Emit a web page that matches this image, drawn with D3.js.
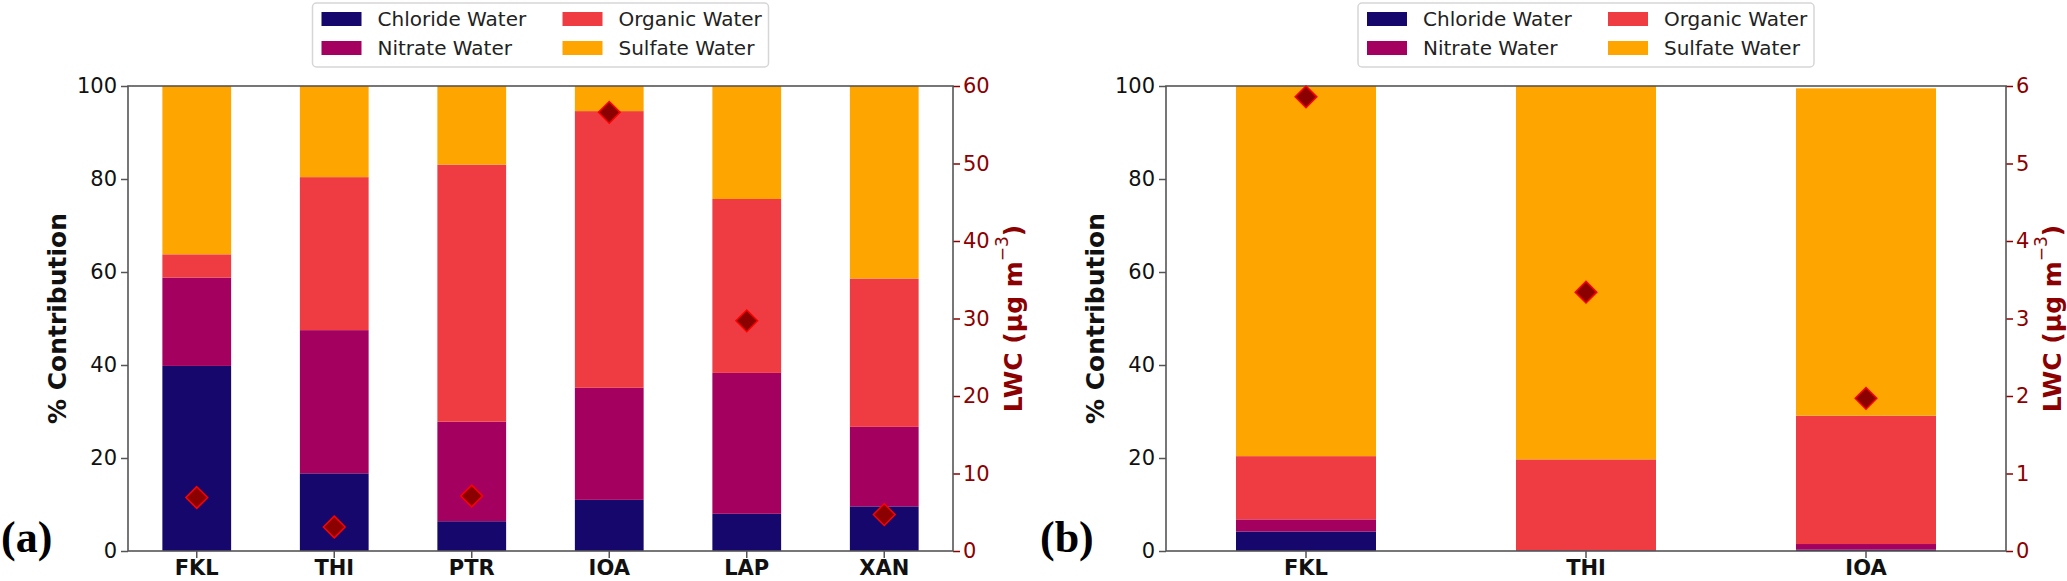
<!DOCTYPE html>
<html>
<head>
<meta charset="utf-8">
<script src="https://cdn.jsdelivr.net/npm/d3@7"></script>
<style>
  html, body { margin: 0; padding: 0; background: #ffffff; }
  svg { display: block; font-family: 'DejaVu Sans', sans-serif; }
  .axis .domain { display: none; }
  .axis text { font-family: 'DejaVu Sans', sans-serif; }
  .spine { fill: none; stroke: #555555; stroke-width: 1.6px; }
  .tag { font-family: 'Liberation Serif', 'Times New Roman', serif; font-weight: bold; font-size: 44px; fill: #000; }
</style>
</head>
<body>
<div id="chart"></div>
<script>
/* ---- data ---- */
const seriesNames = ["Chloride Water", "Nitrate Water", "Organic Water", "Sulfate Water"];
const seriesKeys  = ["chloride", "nitrate", "organic", "sulfate"];
const seriesColors = ["#15076b", "#a3005f", "#ef3c42", "#ffa500"];

// panel (a)
const sitesA    = ["FKL", "THI", "PTR", "IOA", "LAP", "XAN"];
const chlorideA = [39.8, 16.7, 6.4, 11.0, 8.0, 9.6];
const nitrateA  = [19.0, 30.8, 21.4, 24.1, 30.3, 17.1];
const organicA  = [5.0, 32.9, 55.3, 59.5, 37.4, 31.9];
const sulfateA  = [36.2, 19.6, 16.9, 5.4, 24.3, 41.4];
const lwcA      = [6.9, 3.1, 7.1, 56.6, 29.7, 4.7];
const lwcTicksA = [0, 10, 20, 30, 40, 50, 60];

// panel (b)
const sitesB    = ["FKL", "THI", "IOA"];
const chlorideB = [4.2, 0.1, 0.3];
const nitrateB  = [2.6, 0.1, 1.2];
const organicB  = [13.6, 19.5, 27.6];
const sulfateB  = [79.6, 80.3, 70.4];
const lwcB      = [5.86, 3.34, 1.97];
const lwcTicksB = [0, 1, 2, 3, 4, 5, 6];

const pctTicks = [0, 20, 40, 60, 80, 100];

const W = 2067, H = 581;
const svg = d3.select("#chart").append("svg")
  .attr("width", W).attr("height", H)
  .attr("viewBox", `0 0 ${W} ${H}`);

function drawPanel(p) {
  const rows = p.sites.map((s, i) => ({
    site: s,
    chloride: p.chloride[i], nitrate: p.nitrate[i],
    organic: p.organic[i], sulfate: p.sulfate[i],
    lwc: p.lwc[i]
  }));

  const x = d3.scaleBand()
    .domain(p.sites)
    .range([p.left, p.right])
    .paddingInner(0.5)
    .paddingOuter(0.25);
  const y = d3.scaleLinear().domain([0, 100]).range([p.bottom, p.top]);
  const yR = d3.scaleLinear().domain([0, p.lwcMax]).range([p.bottom, p.top]);

  const g = svg.append("g");

  // stacked bars
  const stacked = d3.stack().keys(seriesKeys)(rows);
  g.selectAll("g.layer")
    .data(stacked)
    .join("g")
      .attr("class", "layer")
      .attr("fill", (d, i) => seriesColors[i])
    .selectAll("rect")
    .data(d => d)
    .join("rect")
      .attr("x", d => x(d.data.site))
      .attr("width", x.bandwidth())
      .attr("y", d => y(d[1]))
      .attr("height", d => y(d[0]) - y(d[1]));

  // axes
  g.append("g")
    .attr("class", "axis")
    .attr("transform", `translate(${p.left},0)`)
    .call(d3.axisLeft(y).tickValues(pctTicks).tickSize(7).tickPadding(4))
    .call(a => a.selectAll(".tick line").attr("stroke", "#555").attr("stroke-width", 1.5))
    .call(a => a.selectAll(".tick text").attr("font-size", 21).attr("fill", "#111"));

  g.append("g")
    .attr("class", "axis")
    .attr("transform", `translate(${p.right},0)`)
    .call(d3.axisRight(yR).tickValues(p.lwcTicks).tickFormat(d3.format("d")).tickSize(7).tickPadding(3))
    .call(a => a.selectAll(".tick line").attr("stroke", "#8b0000").attr("stroke-width", 1.5))
    .call(a => a.selectAll(".tick text").attr("font-size", 21).attr("fill", "#8b0000"));

  g.append("g")
    .attr("class", "axis")
    .attr("transform", `translate(0,${p.bottom})`)
    .call(d3.axisBottom(x).tickSize(7).tickPadding(2))
    .call(a => a.selectAll(".tick line").attr("stroke", "#555").attr("stroke-width", 1.5))
    .call(a => a.selectAll(".tick text").attr("font-size", 21).attr("font-weight", "bold").attr("fill", "#111"));

  // frame
  g.append("rect")
    .attr("class", "spine")
    .attr("x", p.left).attr("y", p.top)
    .attr("width", p.right - p.left).attr("height", p.bottom - p.top);

  // LWC diamonds
  g.selectAll("path.lwc")
    .data(rows)
    .join("path")
      .attr("class", "lwc")
      .attr("d", d3.symbol(d3.symbolDiamond2, 300)())
      .attr("transform", d => `translate(${x(d.site) + x.bandwidth() / 2},${yR(d.lwc)})`)
      .attr("fill", "#8b0000")
      .attr("stroke", "#ff0000")
      .attr("stroke-width", 1.5);

  // y labels
  const midY = (p.top + p.bottom) / 2;
  g.append("text")
    .attr("transform", `translate(${p.left - 71},${midY}) rotate(-90)`)
    .attr("text-anchor", "middle")
    .attr("dominant-baseline", "central")
    .attr("font-size", 25)
    .attr("font-weight", "bold")
    .attr("fill", "#111")
    .text("% Contribution");

  const lw = g.append("text")
    .attr("transform", `translate(${p.right + p.lwcOffset},${midY}) rotate(-90)`)
    .attr("text-anchor", "middle")
    .attr("dominant-baseline", "central")
    .attr("font-size", 25)
    .attr("font-weight", "bold")
    .attr("fill", "#8b0000");
  lw.append("tspan").text("LWC (μg m");
  lw.append("tspan").attr("font-weight", "normal").attr("font-size", 17).attr("dy", -11).text("−3");
  lw.append("tspan").attr("dy", 11).text(")");

  // legend
  const lg = g.append("g").attr("transform", `translate(${(p.left + p.right) / 2 - 228},3)`);
  lg.append("rect")
    .attr("width", 456).attr("height", 64)
    .attr("rx", 4)
    .attr("fill", "#fff")
    .attr("stroke", "#d6d6d6")
    .attr("stroke-width", 1.5);
  seriesNames.forEach((name, i) => {
    const col = i < 2 ? 0 : 1;
    const row = i % 2;
    const item = lg.append("g").attr("transform", `translate(${9 + col * 241},${9 + row * 29})`);
    item.append("rect").attr("width", 40).attr("height", 14).attr("fill", seriesColors[i]);
    item.append("text")
      .attr("x", 56).attr("y", 7)
      .attr("dominant-baseline", "central")
      .attr("font-size", 20)
      .attr("fill", "#222")
      .text(name);
  });

  // panel tag
  svg.append("text").attr("class", "tag")
    .attr("x", p.tagX).attr("y", 552)
    .text(p.tag);
}

drawPanel({
  left: 128, right: 953, top: 86, bottom: 551,
  sites: sitesA, chloride: chlorideA, nitrate: nitrateA, organic: organicA, sulfate: sulfateA,
  lwc: lwcA, lwcMax: 60, lwcTicks: lwcTicksA, lwcOffset: 60, tag: "(a)", tagX: 1
});

drawPanel({
  left: 1166, right: 2006, top: 86, bottom: 551,
  sites: sitesB, chloride: chlorideB, nitrate: nitrateB, organic: organicB, sulfate: sulfateB,
  lwc: lwcB, lwcMax: 6, lwcTicks: lwcTicksB, lwcOffset: 46, tag: "(b)", tagX: 1040
});
</script>
</body>
</html>
